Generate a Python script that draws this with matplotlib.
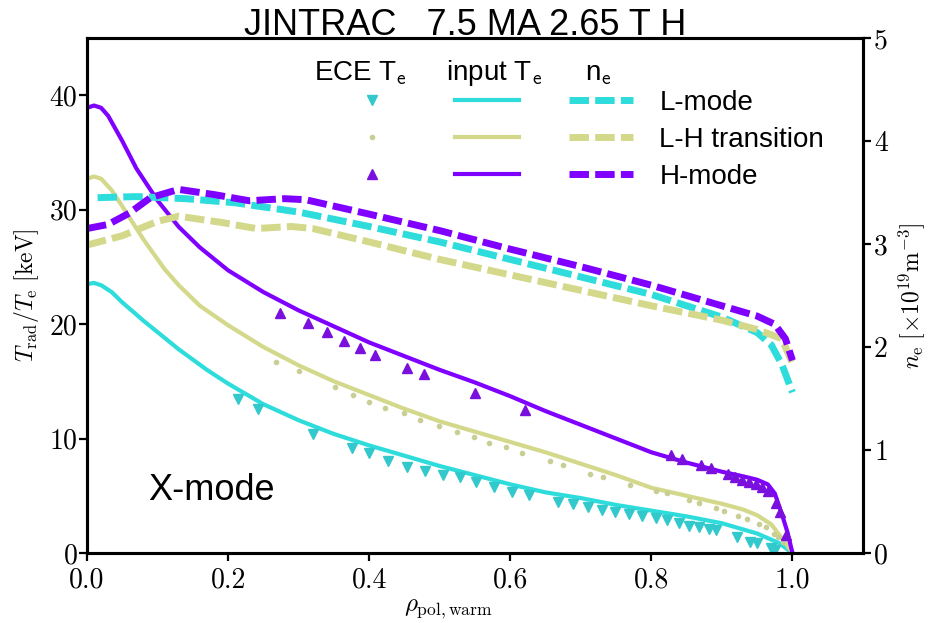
import matplotlib
matplotlib.use("Agg")
import matplotlib.pyplot as plt
from matplotlib.lines import Line2D

plt.rcParams['mathtext.fontset'] = 'cm'

# ---------------- data ----------------
title = "JINTRAC   7.5 MA 2.65 T H"

# input Te profiles [keV]
rho_teL = [0.0, 0.01, 0.02, 0.035, 0.05, 0.08, 0.1, 0.13, 0.17, 0.2, 0.25, 0.3, 0.35, 0.4, 0.45,
           0.5, 0.55, 0.6, 0.65, 0.7, 0.75, 0.8, 0.85, 0.9, 0.95, 0.98, 1.0]
te_L = [23.5, 23.6, 23.4, 22.8, 21.9, 20.3, 19.3, 17.8, 16.0, 14.8, 13.0, 11.6, 10.4, 9.4, 8.5,
        7.6, 6.8, 6.0, 5.3, 4.8, 4.2, 3.7, 3.2, 2.6, 1.7, 0.9, 0.0]

rho_teLH = [0.0, 0.01, 0.02, 0.035, 0.05, 0.08, 0.11, 0.13, 0.16, 0.2, 0.25, 0.3, 0.35, 0.4, 0.45,
            0.5, 0.55, 0.6, 0.65, 0.7, 0.75, 0.8, 0.85, 0.9, 0.93, 0.95, 0.97, 0.985, 1.0]
te_LH = [32.7, 32.9, 32.7, 31.7, 30.3, 27.4, 24.8, 23.4, 21.6, 19.9, 18.0, 16.4, 15.0, 13.8, 12.6,
         11.5, 10.6, 9.7, 8.8, 7.8, 6.8, 5.7, 5.0, 4.3, 3.8, 3.3, 2.5, 1.3, 0.0]

rho_teH = [0.0, 0.01, 0.02, 0.03, 0.05, 0.07, 0.1, 0.13, 0.16, 0.2, 0.25, 0.3, 0.35, 0.4, 0.45,
           0.5, 0.55, 0.6, 0.65, 0.7, 0.75, 0.8, 0.85, 0.9, 0.93, 0.95, 0.965, 0.975, 0.985, 0.993, 1.0]
te_H = [38.9, 39.1, 38.9, 38.2, 36.0, 33.6, 30.8, 28.5, 26.7, 24.7, 22.8, 21.2, 19.8, 18.4, 17.2,
        16.0, 14.9, 13.7, 12.4, 11.2, 10.0, 8.8, 7.9, 7.1, 6.7, 6.4, 6.0, 5.2, 3.4, 1.8, 0.0]

# density profiles [1e19 m^-3]
rho_neL = [0.015, 0.07, 0.14, 0.21, 0.3, 0.4, 0.5, 0.6, 0.7, 0.8, 0.9, 0.95, 0.97, 0.985, 1.0]
ne_L = [3.45, 3.46, 3.44, 3.40, 3.31, 3.17, 3.02, 2.85, 2.68, 2.51, 2.29, 2.14, 2.02, 1.83, 1.56]

rho_neLH = [0.0, 0.05, 0.1, 0.13, 0.19, 0.24, 0.29, 0.32, 0.4, 0.5, 0.6, 0.7, 0.8, 0.9, 0.95,
            0.985, 1.0]
ne_LH = [2.99, 3.08, 3.22, 3.27, 3.21, 3.15, 3.17, 3.15, 3.02, 2.85, 2.70, 2.55, 2.40, 2.26, 2.17,
         2.08, 1.84]

rho_neH = [0.0, 0.03, 0.06, 0.09, 0.13, 0.18, 0.23, 0.28, 0.31, 0.4, 0.5, 0.6, 0.7, 0.8, 0.9,
           0.95, 0.975, 0.99, 1.0]
ne_H = [3.15, 3.19, 3.30, 3.45, 3.53, 3.48, 3.42, 3.44, 3.43, 3.29, 3.13, 2.95, 2.78, 2.60, 2.40,
        2.30, 2.22, 2.08, 1.87]

# ECE radiation temperatures [keV]
rho_eceL = [0.214, 0.242, 0.321, 0.376, 0.40, 0.427, 0.454, 0.479, 0.505, 0.529, 0.552, 0.577,
            0.603, 0.626, 0.668, 0.689, 0.71, 0.73, 0.749, 0.768, 0.787, 0.806, 0.822, 0.839,
            0.853, 0.867, 0.881, 0.891, 0.922, 0.94, 0.95, 0.969, 0.975]
ece_L = [13.5, 12.6, 10.4, 9.2, 8.7, 8.0, 7.5, 7.2, 6.8, 6.6, 6.2, 5.8,
         5.3, 5.1, 4.5, 4.3, 4.0, 3.8, 3.6, 3.4, 3.2, 3.1, 2.9, 2.6,
         2.4, 2.3, 2.1, 2.0, 1.4, 1.0, 0.9, 0.4, 0.3]

rho_eceLH = [0.268, 0.301, 0.352, 0.377, 0.40, 0.423, 0.449, 0.472, 0.499, 0.524, 0.549, 0.570,
             0.594, 0.617, 0.657, 0.675, 0.713, 0.732, 0.77, 0.806, 0.822, 0.853, 0.867, 0.892,
             0.903, 0.923, 0.935, 0.952, 0.962, 0.974, 0.98, 0.987]
ece_LH = [16.7, 15.9, 14.5, 13.8, 13.2, 12.7, 12.2, 11.6, 11.1, 10.6, 10.1, 9.6,
          9.3, 8.7, 8.0, 7.7, 6.9, 6.6, 5.9, 5.4, 5.2, 4.6, 4.4, 3.9,
          3.7, 3.2, 3.0, 2.5, 2.3, 1.7, 1.4, 1.0]

rho_eceH = [0.274, 0.313, 0.34, 0.365, 0.387, 0.408, 0.454, 0.478, 0.55, 0.621, 0.828, 0.843,
            0.871, 0.884, 0.908, 0.919, 0.929, 0.939, 0.949, 0.957, 0.966, 0.977, 0.982, 0.991]
ece_H = [21.0, 20.1, 19.3, 18.5, 17.9, 17.3, 16.2, 15.6, 14.0, 12.5, 8.6, 8.2,
         7.7, 7.4, 6.9, 6.6, 6.4, 6.2, 6.0, 5.8, 5.4, 4.4, 3.6, 1.6]

scenarios = ["L-mode", "L-H transition", "H-mode"]
headers = [r"ECE T$_\mathsf{e}$", r"input T$_\mathsf{e}$", r"n$_\mathsf{e}$"]

xticks = [0.0, 0.2, 0.4, 0.6, 0.8, 1.0]
xticklabels = ["0.0", "0.2", "0.4", "0.6", "0.8", "1.0"]
yticks = [0, 10, 20, 30, 40]
yticklabels = ["0", "10", "20", "30", "40"]
y2ticks = [0, 1, 2, 3, 4, 5]
y2ticklabels = ["0", "1", "2", "3", "4", "5"]

# ---------------- style ----------------
c_L, c_LH, c_H = '#2edcdc', '#d3d88a', '#8000ff'
m_L, m_LH, m_H = '#33c8cc', '#c8ce94', '#7a10dd'
sans = 'Liberation Sans'
cm = 'cmr10'

fig = plt.figure(figsize=(9.35, 6.23), dpi=100)
ax = fig.add_axes([87/935, 1-553/623, (863-87)/935, (553-38)/623])
ax2 = ax.twinx()

lw_s = 3.0
lw_d = 5.0
dash = (2.8, 0.9)

ax.plot(rho_teL, te_L, color=c_L, lw=lw_s)
ax.plot(rho_teLH, te_LH, color=c_LH, lw=lw_s)
ax.plot(rho_teH, te_H, color=c_H, lw=lw_s)

ax.plot(rho_eceL, ece_L, 'v', color=m_L, ms=7, ls='none')
ax.plot(rho_eceLH, ece_LH, '.', color=m_LH, ms=6, ls='none')
ax.plot(rho_eceH, ece_H, '^', color=m_H, ms=7, ls='none')

ax2.plot(rho_neL, ne_L, color=c_L, lw=lw_d, dashes=dash)
ax2.plot(rho_neLH, ne_LH, color=c_LH, lw=lw_d, dashes=dash)
ax2.plot(rho_neH, ne_H, color=c_H, lw=lw_d, dashes=dash)

ax.set_xlim(0, 1.1)
ax.set_ylim(0, 45)
ax2.set_ylim(0, 5)

ax.set_xticks(xticks, xticklabels, fontfamily=cm, fontsize=20)
ax.set_yticks(yticks, yticklabels, fontfamily=cm, fontsize=20)
ax2.set_yticks(y2ticks, y2ticklabels, fontfamily=cm, fontsize=20)

for a in (ax, ax2):
    for s in a.spines.values():
        s.set_linewidth(2.2)
    a.tick_params(direction='out', length=6, width=1.6, pad=2)
ax.tick_params(axis='y', pad=1)
ax.tick_params(axis='x', pad=4)

ax.set_xlabel(r'$\rho_\mathrm{pol,warm}$', fontsize=18)
ax.xaxis.set_label_coords(0.465, -0.085)
ax.set_ylabel(r'$T_\mathrm{rad}/T_\mathrm{e}\ [\mathrm{keV}]$', fontsize=17, labelpad=6)
ax2.set_ylabel(r'$n_\mathrm{e}\ [\times 10^{19}\mathrm{m}^{-3}]$', fontsize=17, labelpad=6)

fig.text(0.498, 1 - 35/623, title, fontsize=26, family=sans, ha='center', va='baseline')
ax.text(0.176, 5.5, "X-mode", fontsize=26, family=sans, ha='center', va='center')

# legend headers
for xh, h in zip([0.352, 0.524, 0.659], headers):
    ax2.text(xh, 0.918, h, transform=ax2.transAxes, fontsize=20, family=sans,
             ha='center', va='baseline')

handles = [
    Line2D([], [], marker='v', color=m_L, ls='none', ms=7),
    Line2D([], [], marker='.', color=m_LH, ls='none', ms=6),
    Line2D([], [], marker='^', color=m_H, ls='none', ms=7),
    Line2D([], [], color=c_L, lw=lw_s),
    Line2D([], [], color=c_LH, lw=lw_s),
    Line2D([], [], color=c_H, lw=lw_s),
    Line2D([], [], color=c_L, lw=lw_d, dashes=dash),
    Line2D([], [], color=c_LH, lw=lw_d, dashes=dash),
    Line2D([], [], color=c_H, lw=lw_d, dashes=dash),
]
labels = ['', '', '', '', '', ''] + scenarios
leg = ax2.legend(handles, labels, ncol=3, loc='center left', bbox_to_anchor=(0.326, 0.802),
                 frameon=False, prop={'family': sans, 'size': 20}, handlelength=2.3,
                 handletextpad=0.94, columnspacing=0.89, labelspacing=0.4,
                 borderpad=0, borderaxespad=0, numpoints=1)

fig.savefig('out.png', dpi=100)
